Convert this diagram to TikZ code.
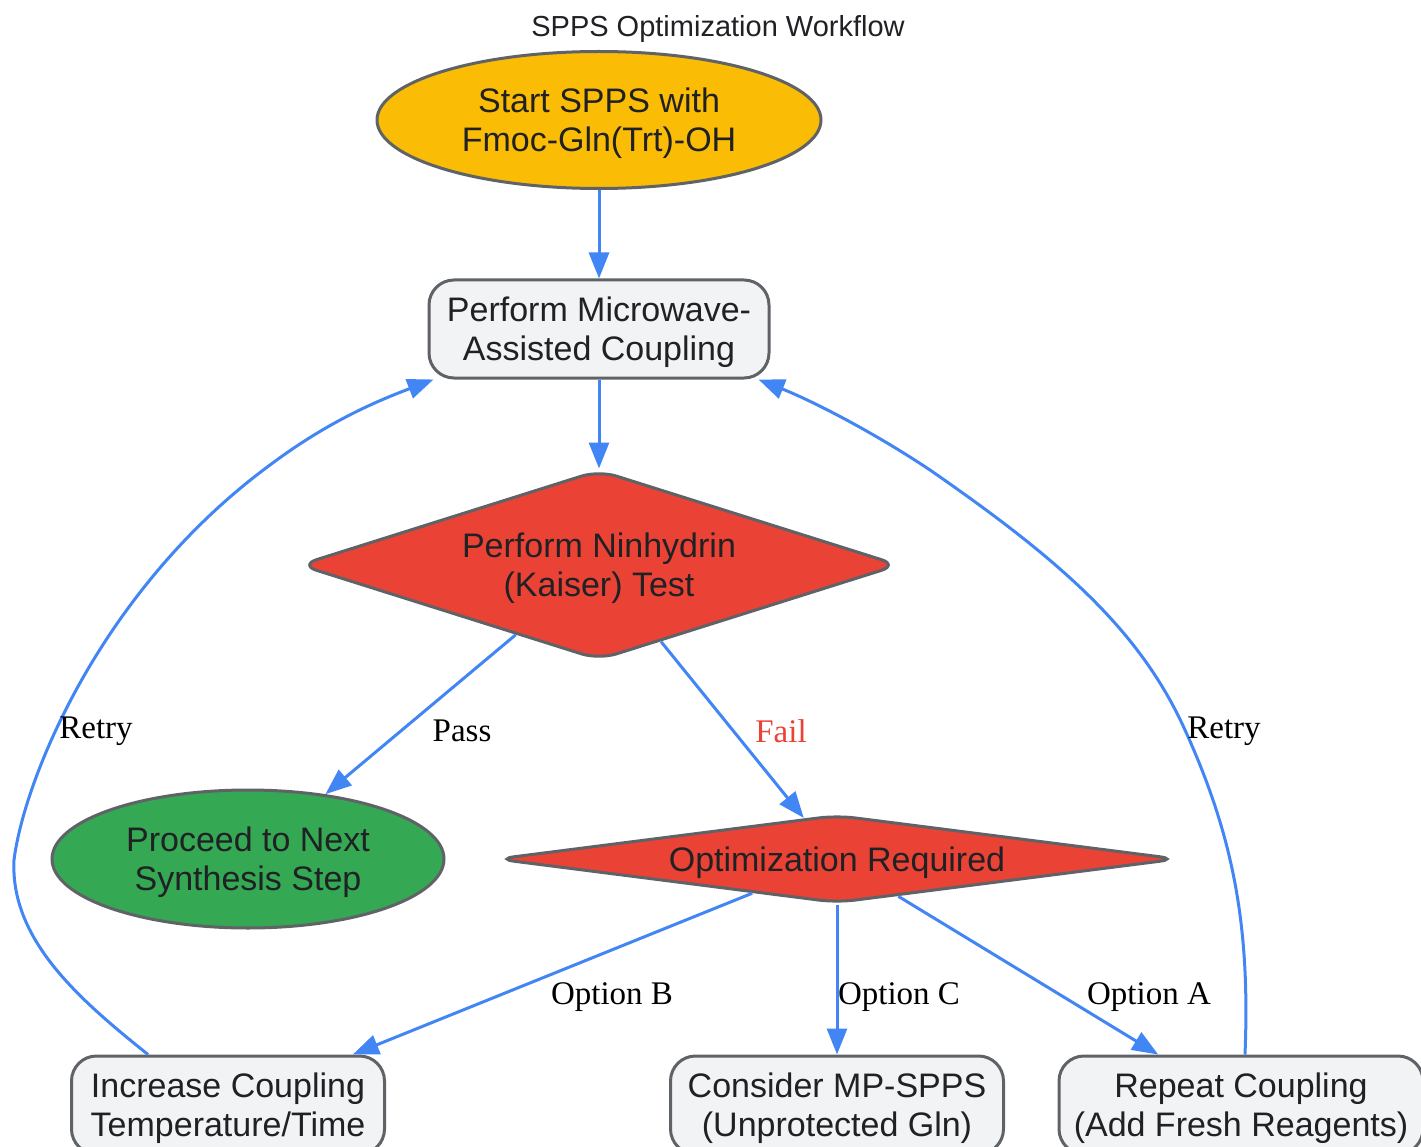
\documentclass[tikz,border=0pt]{standalone}
\usepackage{fontspec}
\setmainfont{Liberation Serif}
\setsansfont{Liberation Sans}
\usetikzlibrary{shapes.geometric,arrows.meta}
\definecolor{startgold}{HTML}{FBBC05}
\definecolor{testred}{HTML}{EA4335}
\definecolor{passgreen}{HTML}{34A853}
\definecolor{boxgray}{HTML}{F1F3F4}
\definecolor{rim}{HTML}{5F6368}
\definecolor{flowblue}{HTML}{4285F4}
\definecolor{ink}{HTML}{202124}

\begin{document}
\begin{tikzpicture}[x=1pt,y=-1pt,
    nodetext/.style={text=ink,align=center,inner sep=0pt,text depth=-6pt,
      font=\sffamily\fontsize{34}{39}\selectfont},
    stepbox/.style={nodetext,draw=rim,line width=3pt,fill=boxgray,
      rounded corners=25pt,minimum width=#1,minimum height=98pt},
    stepbox/.default=340pt,
    oval/.style={nodetext,ellipse,draw=rim,line width=3pt},
    check/.style={nodetext,diamond,draw=rim,line width=3pt,fill=testred,
      rounded corners=18pt},
    flow/.style={draw=flowblue,line width=3pt,
      -{Triangle[length=26pt,width=20pt]}},
    lbl/.style={font=\fontsize{33}{38}\selectfont,inner sep=0pt}]
  \useasboundingbox (0,0) rectangle (1421,1147);

  \node[font=\sffamily\fontsize{29}{34}\selectfont,text=ink] (title)
    at (718,29) {SPPS Optimization Workflow};

  % main column
  \node[oval,fill=startgold,minimum width=444pt,minimum height=137pt] (start)
    at (599,120) {Start SPPS with\\Fmoc-Gln(Trt)-OH};
  \node[stepbox] (mw) at (599,329) {Perform Microwave-\\Assisted Coupling};
  \node[check,aspect=3.16,minimum width=600pt,minimum height=190pt] (kaiser)
    at (599,565) {Perform Ninhydrin\\(Kaiser) Test};
  \node[oval,fill=passgreen,minimum width=392pt,minimum height=138pt] (next)
    at (248,859) {Proceed to Next\\Synthesis Step};
  \node[check,aspect=7.7,minimum width=682pt,minimum height=88pt] (opt)
    at (837,859) {Optimization Required};

  % options
  \node[stepbox=313pt] (temp) at (228,1105) {Increase Coupling\\Temperature/Time};
  \node[stepbox=333pt] (mpspps) at (837,1105) {Consider MP-SPPS\\(Unprotected Gln)};
  \node[stepbox=364pt] (again) at (1241,1105) {Repeat Coupling\\(Add Fresh Reagents)};

  \draw[flow] (start) -- (mw);
  \draw[flow] (mw) -- (kaiser);
  \draw[flow] (kaiser) -- (next);
  \draw[flow] (kaiser) -- (opt);
  \draw[flow] (opt) -- (temp);
  \draw[flow] (opt) -- (mpspps);
  \draw[flow] (opt) -- (again);

  % retry loops
  \draw[flow] ([xshift=-80pt]temp.north) .. controls (80,1000) and (10,940) ..
    (14,860) .. controls (24,780) and (100,590) ..
    (270,465) .. controls (330,420) and (380,400) .. ([xshift=6pt]mw.south west);
  \draw[flow] ([xshift=4pt]again.north) .. controls (1250,930) and (1235,840) ..
    (1185,730) .. controls (1140,630) and (1060,560) ..
    (930,470) .. controls (870,430) and (810,400) .. ([xshift=-12pt]mw.south east);

  \node[lbl] (pass) at (462,731) {Pass};
  \node[lbl,text=testred] (fail) at (781,731) {Fail};
  \node[lbl] (optb) at (612,997) {Option B};
  \node[lbl] (optc) at (899,997) {Option C};
  \node[lbl] (opta) at (1149,997) {Option A};
  \node[lbl] (retryl) at (96,731) {Retry};
  \node[lbl] (retryr) at (1224,731) {Retry};
\end{tikzpicture}
\end{document}
